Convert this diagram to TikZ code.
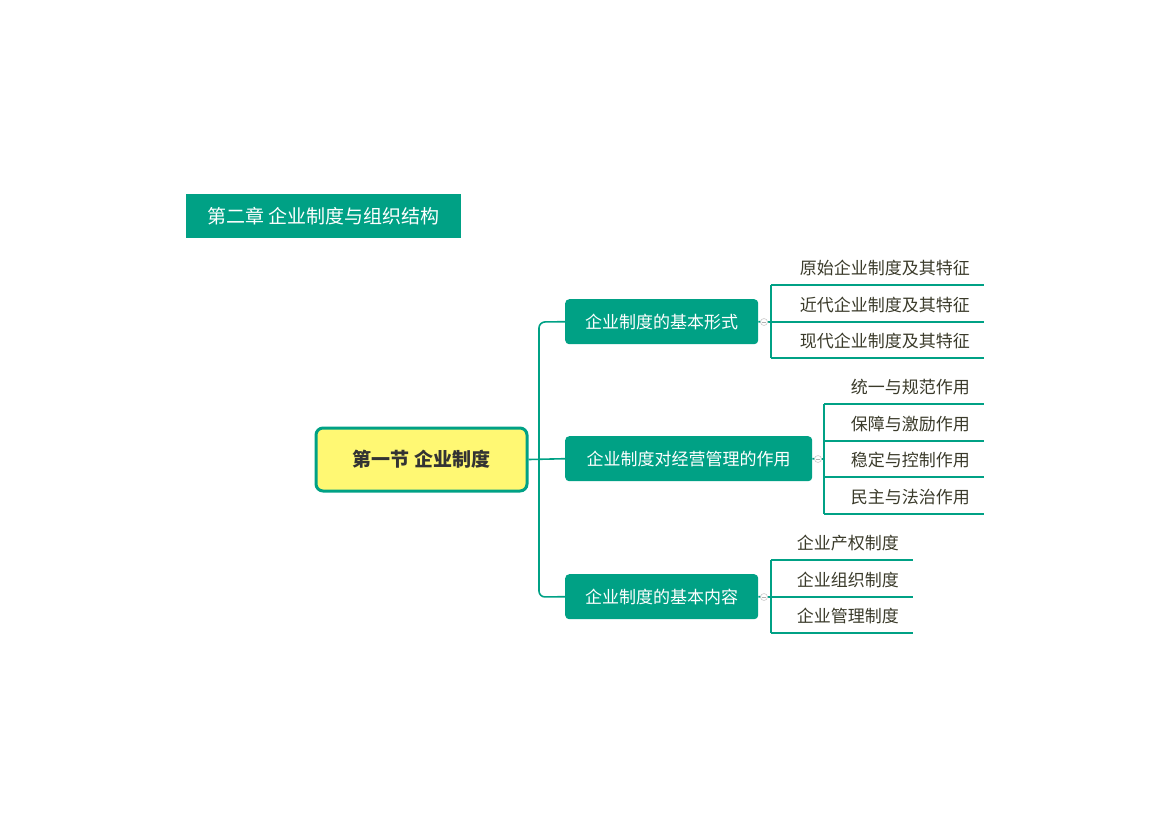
\documentclass[tikz,border=0pt]{standalone}
\usepackage{fontspec}
\setmainfont{Noto Sans CJK SC}
\definecolor{teal1}{HTML}{00A185}
\definecolor{leaftxt}{HTML}{3A3A2A}
\begin{document}
\begin{tikzpicture}[x=1pt,y=-1pt,
  branch/.style={fill=teal1,rounded corners=4pt,text=white,font=\fontsize{17}{20}\selectfont,inner sep=0pt,anchor=north west},
  leaf/.style={text=leaftxt,font=\fontsize{17}{20}\selectfont,anchor=east,inner sep=0pt},
  ln/.style={draw=teal1,line width=1.6pt},
  knob/.style={circle,draw=gray!40,fill=white,inner sep=0pt,minimum size=7pt,line width=0.6pt}]
\useasboundingbox (0,0) rectangle (1175,831);
\node[fill=teal1,text=white,font=\fontsize{19}{22}\selectfont,minimum width=275pt,minimum height=44pt,inner sep=0pt,anchor=north west] (title) at (186,194) {第二章 企业制度与组织结构};
\node[draw=teal1,line width=3pt,fill=yellow!55!white,rounded corners=7pt,minimum width=211pt,minimum height=63pt,inner sep=0pt,font=\bfseries\fontsize{19}{22}\selectfont,text=black!80] (root) at (421.5,459.5) {第一节 企业制度};
\node[branch,minimum width=193pt,minimum height=45pt] (b1) at (565,299) {企业制度的基本形式};
\node[branch,minimum width=247pt,minimum height=45pt] (b2) at (565,436) {企业制度对经营管理的作用};
\node[branch,minimum width=193pt,minimum height=45pt] (b3) at (565,574) {企业制度的基本内容};
\coordinate (t1) at (539,322); \coordinate (t3) at (539,597);
\draw[ln] (root.east) -- (b2.west);
\draw[ln,rounded corners=6pt] (b1.west) -- (t1) -- (t3) -- (b3.west);
% group 1
\coordinate (g1a) at (771,285); \coordinate (g1c) at (771,358);
\draw[ln] (g1a) -- (g1c);
\draw[ln] (b1.east) -- (771,322);
\foreach \y/\t [count=\i] in {285/原始企业制度及其特征,322/近代企业制度及其特征,358/现代企业制度及其特征}{
  \draw[ln] (771,\y) -- (984,\y);
  \node[leaf] (l1\i) at (970,\y-17) {\t};}
\node[knob] (k1) at (764,322) {}; \draw[gray!60,line width=0.6pt] (k1.west)++(1.5,0) -- ++(4,0);
% group 2
\draw[ln] (824,404) -- (824,514);
\draw[ln] (b2.east) -- (824,459);
\foreach \y/\t [count=\i] in {404/统一与规范作用,441/保障与激励作用,477/稳定与控制作用,514/民主与法治作用}{
  \draw[ln] (824,\y) -- (984,\y);
  \node[leaf] (l2\i) at (970,\y-17) {\t};}
\node[knob] (k2) at (818,459) {}; \draw[gray!60,line width=0.6pt] (k2.west)++(1.5,0) -- ++(4,0);
% group 3
\draw[ln] (771,560) -- (771,633);
\draw[ln] (b3.east) -- (771,597);
\foreach \y/\t [count=\i] in {560/企业产权制度,597/企业组织制度,633/企业管理制度}{
  \draw[ln] (771,\y) -- (913,\y);
  \node[leaf] (l3\i) at (899,\y-17) {\t};}
\node[knob] (k3) at (764,597) {}; \draw[gray!60,line width=0.6pt] (k3.west)++(1.5,0) -- ++(4,0);
\end{tikzpicture}
\end{document}
